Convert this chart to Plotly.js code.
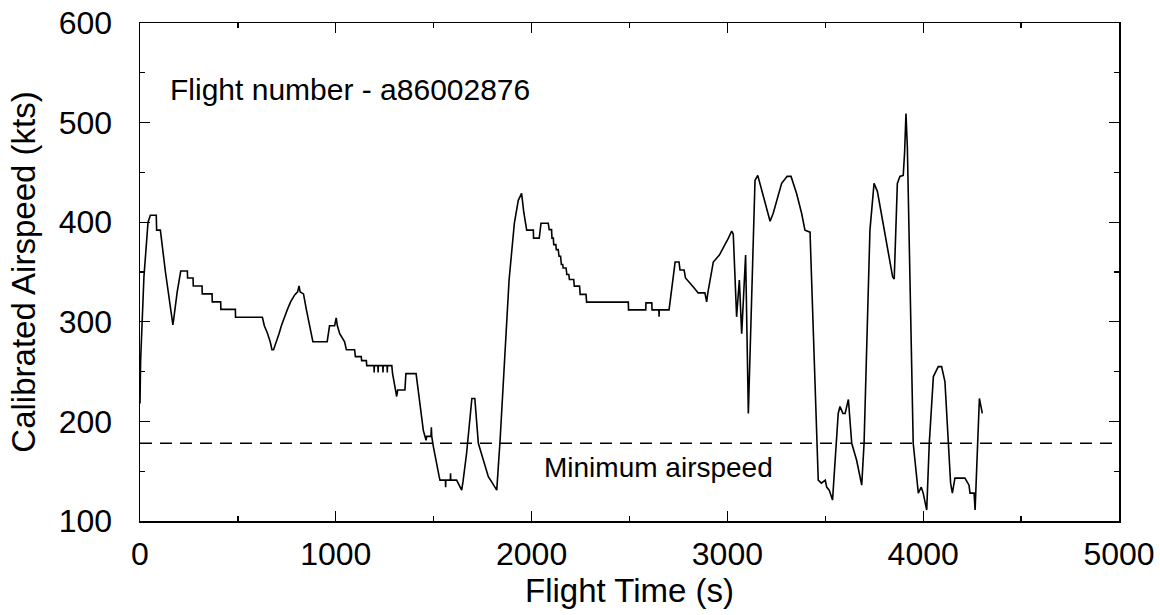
<!DOCTYPE html>
<html>
<head>
<meta charset="utf-8">
<script src="https://cdn.plot.ly/plotly-3.0.1.min.js"></script>
<style>
  html, body { margin: 0; padding: 0; background: #ffffff; }
  #chart { width: 1160px; height: 615px; }
</style>
</head>
<body>
<div id="chart"></div>
<script>
// Flight time (s)
const flightTime = [
  0, 3, 20, 41, 53, 83, 85, 104, 130, 160, 168, 173, 190, 208, 242, 243, 271, 272, 317, 318,
  368, 369, 412, 413, 487, 488, 625, 635, 650, 665, 674, 682, 698, 710, 722, 735, 752, 769, 790, 805,
  812, 818, 835, 850, 865, 883, 956, 968, 994, 1002, 1008, 1020, 1045, 1054, 1096, 1100, 1130, 1132, 1156, 1158,
  1195, 1196, 1197, 1215, 1216, 1217, 1240, 1241, 1242, 1262, 1263, 1264, 1286, 1290, 1311, 1316, 1353, 1358, 1410, 1416,
  1447, 1461, 1464, 1486, 1488, 1490, 1498, 1528, 1532, 1560, 1561, 1562, 1585, 1586, 1587, 1617, 1634, 1643, 1650, 1668,
  1695, 1710, 1728, 1753, 1779, 1800, 1822, 1839, 1864, 1885, 1912, 1932, 1949, 1960, 1975, 2009, 2010, 2039, 2048, 2085,
  2090, 2102, 2104, 2111, 2113, 2124, 2126, 2136, 2140, 2148, 2152, 2159, 2161, 2176, 2180, 2190, 2193, 2215, 2218, 2245,
  2248, 2278, 2281, 2494, 2495, 2583, 2584, 2614, 2615, 2650, 2651, 2652,
  2702, 2733, 2753, 2758, 2779, 2786, 2826, 2851, 2885, 2894, 2900, 2911, 2928, 2959, 2988, 3005, 3022, 3030, 3047, 3061,
  3073, 3093, 3107, 3141, 3155, 3192, 3218, 3234, 3277, 3305, 3325, 3353, 3379, 3396, 3422, 3464, 3480, 3500, 3507, 3520,
  3537, 3566, 3575, 3590, 3601, 3618, 3635, 3660, 3686, 3698, 3728, 3749, 3766, 3844, 3852, 3868, 3881, 3898, 3905, 3912,
  3919, 3949, 3966, 3975, 3990, 4000, 4018, 4031, 4052, 4077, 4094, 4111, 4140, 4149, 4162, 4213, 4234, 4239, 4260, 4265,
  4287, 4295, 4302
];

// Calibrated airspeed (kts)
const airspeed = [
  218, 260, 345, 400, 407, 407, 392, 392, 350, 305, 297, 304, 330, 351, 351, 344, 344, 336, 336, 328,
  328, 320, 320, 312.5, 312.5, 304.5, 304.5, 296, 289, 280, 272, 272, 280, 288, 296, 304, 312, 320, 327, 330,
  336, 330, 328, 312, 296, 280, 280, 296, 296, 304, 296, 288, 280, 272, 272, 265, 265, 261, 261, 256,
  256, 249, 256, 256, 249, 256, 256, 249, 256, 256, 249, 256, 256, 248, 225, 231.5, 231.5, 248, 248, 238,
  191, 181, 185, 185, 194, 185, 175, 144.5, 141, 141, 134, 141, 141, 148, 141, 141, 134, 131, 140, 168,
  223, 223, 178, 161, 144.5, 138, 131, 181, 275, 342, 399, 422, 429, 410, 392, 392, 384, 384, 399, 399,
  392.5, 392.5, 384, 384, 377.5, 377.5, 372.5, 372.5, 365.8, 365.8, 357.5, 357.5, 354, 354, 347.5, 347.5, 342.5, 342.5, 335.8, 335.8,
  327.5, 327.5, 319.8, 319.8, 312, 312, 319, 319, 312, 312, 305, 312,
  312, 360, 360, 352, 352, 344, 335, 329, 329, 320, 329, 342, 360, 367, 377, 384, 391, 388, 305, 342,
  288, 367, 208, 442, 447, 419, 401, 409, 439, 446, 446, 429, 409, 392, 390, 141, 138, 141, 134, 131,
  121, 208, 215, 208, 208, 222, 178, 161, 136, 178, 392, 439, 431, 345, 343, 439, 446, 447, 470, 509,
  476, 178, 143, 128, 134, 128, 111, 178, 245, 255, 255, 240, 138, 128, 143, 143, 136, 128, 128, 111,
  223, 215, 208
];

const minimumAirspeed = 178;
const xTickValues = [0, 1000, 2000, 3000, 4000, 5000];
const yTickValues = [100, 200, 300, 400, 500, 600];
const flightLabel = "Flight number - a86002876";
const minLabel = "Minimum airspeed";

const FONT = "Liberation Sans, Arial, Helvetica, sans-serif";

const traces = [{
  type: "scatter",
  mode: "lines",
  x: flightTime,
  y: airspeed,
  line: { color: "#000000", width: 1.6 },
  hoverinfo: "skip",
  showlegend: false
}];

const axisCommon = {
  showline: true,
  linecolor: "#000000",
  linewidth: 1.5,
  mirror: "ticks",
  ticks: "inside",
  tickcolor: "#000000",
  tickwidth: 1.3,
  ticklen: 10,
  showgrid: false,
  zeroline: false,
  tickfont: { family: FONT, size: 32, color: "#000000" }
};

const layout = {
  width: 1160,
  height: 615,
  margin: { l: 140, r: 41, t: 23, b: 94 },
  paper_bgcolor: "#ffffff",
  plot_bgcolor: "#ffffff",
  font: { family: FONT, color: "#000000" },
  showlegend: false,
  xaxis: Object.assign({}, axisCommon, {
    range: [0, 5000],
    tickmode: "array",
    tickvals: xTickValues,
    ticktext: xTickValues.map(String),
    ticklabelstandoff: 4,
    minor: { dtick: 500, ticks: "inside", ticklen: 5, tickcolor: "#000000", tickwidth: 1.2, showgrid: false },
    title: { text: "Flight Time (s)", font: { family: FONT, size: 33, color: "#000000" }, standoff: 4 }
  }),
  yaxis: Object.assign({}, axisCommon, {
    range: [100, 600],
    tickmode: "array",
    tickvals: yTickValues,
    ticktext: yTickValues.map(String),
    ticklabelstandoff: 20,
    minor: { dtick: 50, ticks: "inside", ticklen: 5, tickcolor: "#000000", tickwidth: 1.2, showgrid: false },
    title: { text: "Calibrated Airspeed (kts)", font: { family: FONT, size: 33, color: "#000000" }, standoff: 13 }
  }),
  shapes: [{
    type: "line",
    xref: "paper", x0: 0, x1: 1,
    yref: "y", y0: minimumAirspeed, y1: minimumAirspeed,
    line: { color: "#000000", width: 1.4, dash: "12px,8px" }
  }],
  annotations: [
    {
      x: 143, y: 533, xref: "x", yref: "y",
      text: flightLabel, showarrow: false,
      xanchor: "left", yanchor: "middle",
      font: { family: FONT, size: 30, color: "#000000" }
    },
    {
      x: 2051, y: 154, xref: "x", yref: "y",
      text: minLabel, showarrow: false,
      xanchor: "left", yanchor: "middle",
      font: { family: FONT, size: 28, color: "#000000" }
    }
  ]
};

Plotly.newPlot("chart", traces, layout, { staticPlot: true, displayModeBar: false });
</script>
</body>
</html>
